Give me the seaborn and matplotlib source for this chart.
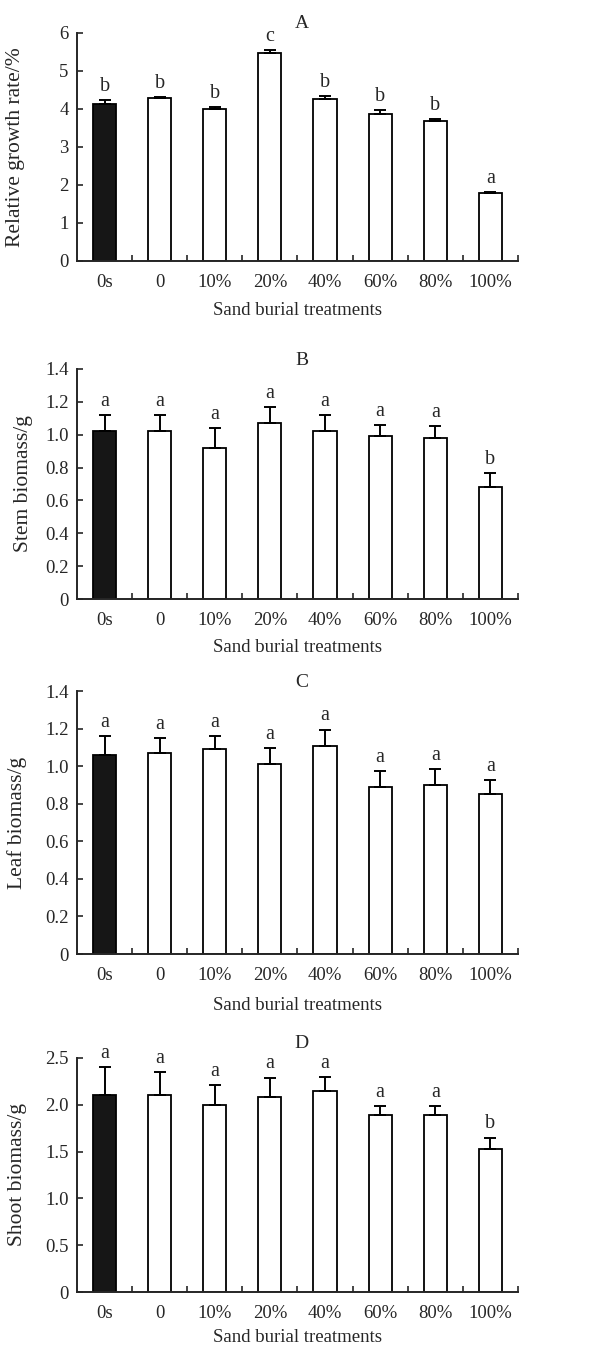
import matplotlib
matplotlib.use("Agg")
import matplotlib.pyplot as plt
import seaborn as sns
import pandas as pd
import numpy as np
from matplotlib.ticker import FixedLocator, FuncFormatter

tratamentos = ["0s", "0", "10%", "20%", "40%", "60%", "80%", "100%"]

rgr_media = [4.14, 4.28, 4.01, 5.46, 4.25, 3.86, 3.69, 1.78]
rgr_erro = [0.10, 0.04, 0.04, 0.08, 0.08, 0.10, 0.05, 0.04]
rgr_letras = ["b", "b", "b", "c", "b", "b", "b", "a"]

caule_media = [1.02, 1.02, 0.92, 1.07, 1.02, 0.99, 0.98, 0.68]
caule_erro = [0.10, 0.10, 0.12, 0.10, 0.10, 0.07, 0.07, 0.085]
caule_letras = ["a", "a", "a", "a", "a", "a", "a", "b"]

folha_media = [1.06, 1.07, 1.09, 1.01, 1.11, 0.89, 0.90, 0.85]
folha_erro = [0.10, 0.08, 0.07, 0.085, 0.085, 0.085, 0.085, 0.075]
folha_letras = ["a", "a", "a", "a", "a", "a", "a", "a"]

parte_aerea_media = [2.10, 2.10, 2.00, 2.08, 2.15, 1.89, 1.89, 1.53]
parte_aerea_erro = [0.30, 0.25, 0.21, 0.21, 0.15, 0.10, 0.10, 0.12]
parte_aerea_letras = ["a", "a", "a", "a", "a", "a", "a", "b"]

sns.set_style("ticks")
plt.rcParams["font.family"] = ["Liberation Serif", "DejaVu Serif"]
plt.rcParams["font.size"] = 13.5

# letra, rótulo y, médias, erros, letras, ymax, ticks, inteiro?, pos. rótulo y, pad título, pad rótulo x
paineis = [
    ("A", "Relative growth rate/%", rgr_media, rgr_erro, rgr_letras, 6, [0, 1, 2, 3, 4, 5, 6], True, -0.118, 3.5, 8),
    ("B", "Stem biomass/g", caule_media, caule_erro, caule_letras, 1.4, [0, 0.2, 0.4, 0.6, 0.8, 1.0, 1.2, 1.4], False, -0.10, 3.0, 7),
    ("C", "Leaf biomass/g", folha_media, folha_erro, folha_letras, 1.4, [0, 0.2, 0.4, 0.6, 0.8, 1.0, 1.2, 1.4], False, -0.113, 1.0, 9),
    ("D", "Shoot biomass/g", parte_aerea_media, parte_aerea_erro, parte_aerea_letras, 2.5, [0, 0.5, 1.0, 1.5, 2.0, 2.5], False, -0.113, 7.0, 5),
]

posicoes = [
    [0.1254, 0.806, 0.718, 0.1695],
    [0.1254, 0.5546, 0.718, 0.1711],
    [0.1254, 0.2907, 0.718, 0.1955],
    [0.1254, 0.0394, 0.718, 0.1740],
]

cores = ["#161616"] + ["white"] * 7

fig = plt.figure(figsize=(6.14, 13.45), dpi=100)

for (letra, ylabel, media, erro, letras, ymax, yticks, inteiro, xlab, pad, lpad), pos in zip(paineis, posicoes):
    ax = fig.add_axes(pos)
    df = pd.DataFrame({"trat": tratamentos, "valor": media})
    sns.barplot(data=df, x="trat", y="valor", hue="trat", palette=cores,
                edgecolor="black", linewidth=1.3, width=0.42, legend=False, ax=ax)
    x = np.arange(len(tratamentos))
    ax.errorbar(x, media, yerr=[np.zeros(len(media)), erro], fmt="none",
                ecolor="black", elinewidth=1.4, capsize=4.5, capthick=1.4)
    for xi, m, e, l in zip(x, media, erro, letras):
        ax.annotate(l, (xi, m + e), xytext=(0, 3), textcoords="offset points",
                    ha="center", va="bottom", fontsize=14.5)
    ax.set_xlim(-0.5, 7.5)
    ax.set_ylim(0, ymax)
    ax.set_yticks(yticks)
    ax.yaxis.set_major_formatter(FuncFormatter(
        lambda v, p, i=inteiro: "0" if abs(v) < 1e-9 else (f"{v:.0f}" if i else f"{v:.1f}")))
    ax.xaxis.set_minor_locator(FixedLocator(np.arange(0.5, 8.0, 1.0)))
    ax.tick_params(axis="x", which="major", length=0, pad=9.5, labelsize=13.5)
    ax.tick_params(axis="x", which="minor", direction="in", length=4, width=1.2)
    ax.tick_params(axis="y", direction="in", length=4, width=1.2, pad=6, labelsize=13.5)
    sns.despine(ax=ax)
    for s in ["left", "bottom"]:
        ax.spines[s].set_linewidth(1.4)
    ax.set_xlabel("Sand burial treatments", fontsize=13.5, labelpad=lpad)
    ax.set_ylabel(ylabel, fontsize=15.5)
    ax.yaxis.set_label_coords(xlab, 0.5)
    ax.set_title(letra, fontsize=14, x=0.51, pad=pad)

fig.savefig("out.png", dpi=100, facecolor="white")
